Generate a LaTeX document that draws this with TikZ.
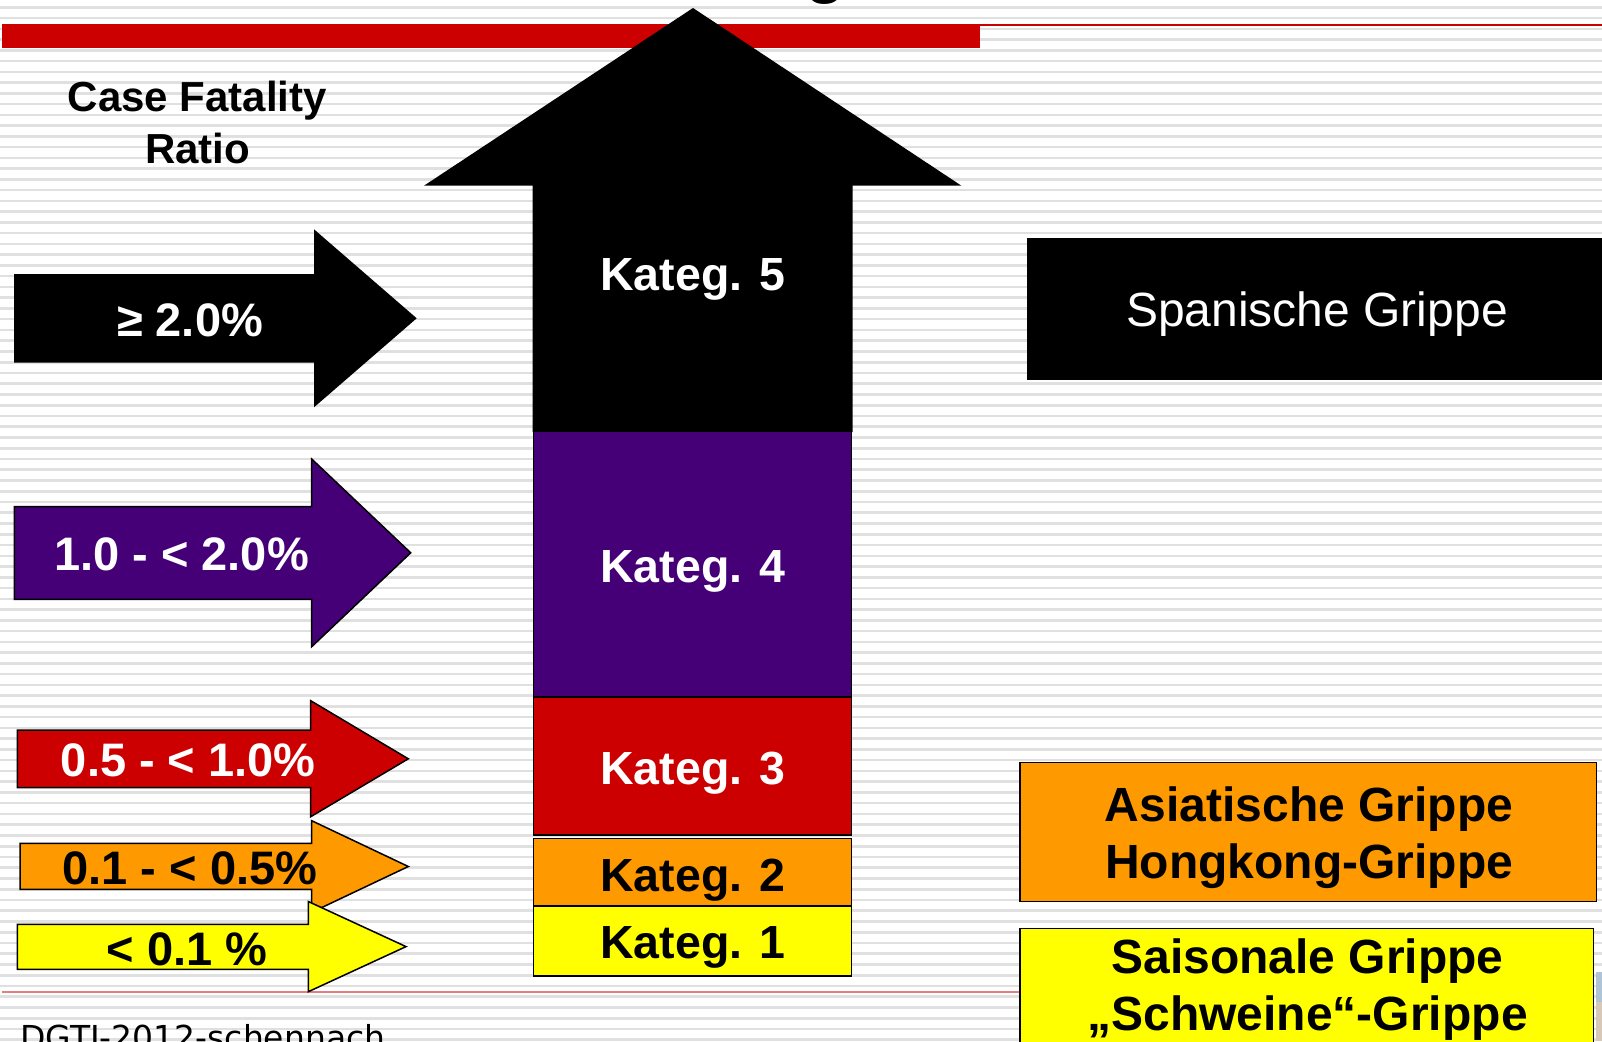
\documentclass[tikz,border=0pt]{standalone}
\usepackage{fontspec}
\setmainfont{Liberation Sans}
\newfontfamily\dejavu{DejaVu Sans}
\definecolor{slidered}{HTML}{CC0000}
\definecolor{katpurple}{HTML}{450077}
\definecolor{katorange}{HTML}{FF9900}
\definecolor{katyellow}{HTML}{FFFF00}
\definecolor{stripegray}{HTML}{E0E0E0}
\definecolor{footred}{HTML}{E08080}
\definecolor{fragblue}{HTML}{B0C4D8}
\definecolor{fragbrown}{HTML}{D8C8B8}
\tikzset{
  stripe/.style={draw=stripegray, line width=2.6pt},
  shapeline/.style={draw=black, line width=1.5pt, line join=miter},
  lbl/.style={anchor=base, inner sep=0pt, font=\fontsize{47}{56}\selectfont\bfseries},
  katlbl/.style={anchor=base, inner sep=0pt, font=\fontsize{46.5}{56}\selectfont\bfseries},
  boxlbl/.style={anchor=base, inner sep=0pt, font=\fontsize{48}{57}\selectfont\bfseries},
}
\begin{document}
\begin{tikzpicture}[x=1pt,y=-1pt]
\useasboundingbox (0,0) rectangle (1602,1041);
\fill[white] (0,0) rectangle (1602,1041);
% striped background
\foreach \i in {0,...,97} {
  \draw[stripe] (0,7.3+10.755*\i) -- (1602,7.3+10.755*\i);
}
% title fragment
\node[anchor=base, inner sep=0pt, font=\fontsize{66}{70}\selectfont\bfseries] (titleg) at (826,-9) {g};
% red header bar
\fill[slidered] (2,24) rectangle (980,47.7);
\fill[slidered] (980,24) rectangle (1602,25.7);
% footer line
\draw[footred, line width=2pt] (2,991.5) -- (1025,991.5);
% big arrow
\fill[black] (532.5,432) -- (532.5,185.7) -- (424,185.7) -- (693,8) -- (961.4,185.7) -- (852.5,185.7) -- (852.5,432) -- cycle;
% category blocks
\path[shapeline, fill=katpurple] (533.3,431.7) rectangle (851.7,697);
\path[shapeline, fill=slidered] (533.3,697) rectangle (851.7,835);
\path[shapeline, fill=katorange] (533.3,838.3) rectangle (851.7,906);
\path[shapeline, fill=katyellow] (533.3,906) rectangle (851.7,976);
\node[katlbl, text=white] (k5) at (693,290) {Kateg. 5};
\node[katlbl, text=white] (k4) at (693,582.7) {Kateg. 4};
\node[katlbl, text=white] (k3) at (693,784) {Kateg. 3};
\node[katlbl, text=black] (k2) at (693,891.7) {Kateg. 2};
\node[katlbl, text=black] (k1) at (693,958.3) {Kateg. 1};
% Case Fatality Ratio
\node[anchor=base, inner sep=0pt, font=\fontsize{42}{51.6}\selectfont\bfseries] (cfr) at (197.5,111.7)
  {\begin{tabular}[t]{@{}c@{}}Case Fatality\\Ratio\end{tabular}};
% left arrows
\fill[black] (14,274) -- (314,274) -- (314,229.3) -- (416.7,318.3) -- (314,407.3) -- (314,362.7) -- (14,362.7) -- cycle;
\node[lbl, text=white] (a5) at (190,336.7) {≥ 2.0\%};
\path[shapeline, fill=katpurple] (14.3,506.7) -- (311.7,506.7) -- (311.7,459) -- (410.7,552.8) -- (311.7,646.7) -- (311.7,599.3) -- (14.3,599.3) -- cycle;
\node[lbl, text=white] (a4) at (181.5,570.7) {1.0 - < 2.0\%};
\path[shapeline, fill=slidered] (17.3,730) -- (310.7,730) -- (310.7,700.7) -- (408.3,758.8) -- (310.7,816.7) -- (310.7,787.7) -- (17.3,787.7) -- cycle;
\node[lbl, text=white] (a3) at (188.3,776.7) {0.5 - < 1.0\%};
\path[shapeline, fill=katorange] (20,843.3) -- (311.7,843.3) -- (311.7,820.7) -- (408.3,866.5) -- (311.7,912.3) -- (311.7,889.3) -- (20,889.3) -- cycle;
\node[lbl, text=black] (a2) at (190,884) {0.1 - < 0.5\%};
\path[shapeline, fill=katyellow] (17.3,924.3) -- (308.3,924.3) -- (308.3,901.5) -- (406,946.6) -- (308.3,991.7) -- (308.3,969.3) -- (17.3,969.3) -- cycle;
\node[lbl, text=black] (a1) at (187.2,965) {< 0.1 \%};
% right boxes
\fill[black] (1027,238.3) rectangle (1610,380);
\node[anchor=base, inner sep=0pt, text=white, font=\fontsize{48}{57}\selectfont] (spa) at (1317,326.7) {Spanische Grippe};
\path[shapeline, fill=katorange] (1020,762.7) rectangle (1596.5,901.7);
\node[boxlbl] (asi) at (1309,821) {\begin{tabular}[t]{@{}c@{}}Asiatische Grippe\\Hongkong-Grippe\end{tabular}};
\path[shapeline, fill=katyellow] (1020,928.3) rectangle (1593.5,1060);
\node[boxlbl] (sai) at (1307.6,973.3) {\begin{tabular}[t]{@{}c@{}}Saisonale Grippe\\„Schweine“-Grippe\end{tabular}};
% image fragment at bottom right
\fill[fragblue] (1596,972) rectangle (1602,1002);
\fill[fragbrown] (1596,1002) rectangle (1602,1041);
% footer text
\node[anchor=base west, inner sep=0pt, font=\dejavu\fontsize{33}{38}\selectfont] (foot) at (20,1049) {DGTI-2012-schennach};
\end{tikzpicture}
\end{document}
